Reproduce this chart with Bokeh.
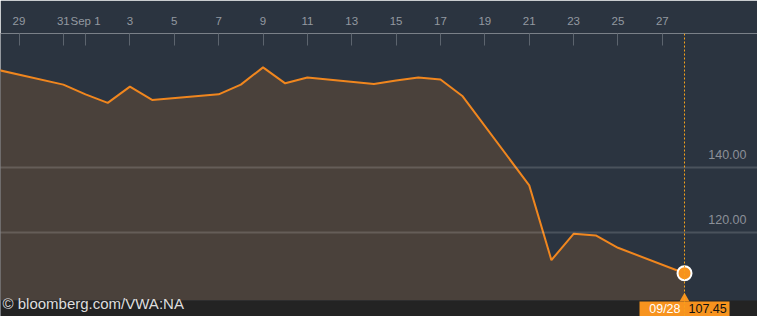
import pandas as pd
from bokeh.plotting import figure
from bokeh.models import Range1d, FixedTicker, Span
from bokeh.core.properties import value
from bokeh.embed import file_html
from bokeh.resources import INLINE

# ---- data ----
dates = ["2015-08-28", "2015-08-31", "2015-09-01", "2015-09-02", "2015-09-03",
         "2015-09-04", "2015-09-07", "2015-09-08", "2015-09-09", "2015-09-10",
         "2015-09-11", "2015-09-14", "2015-09-15", "2015-09-16", "2015-09-17",
         "2015-09-18", "2015-09-21", "2015-09-22", "2015-09-23", "2015-09-24",
         "2015-09-25", "2015-09-28"]
prices = [170.1, 165.5, 162.5, 159.9, 164.9,
          160.8, 162.5, 165.5, 170.8, 165.9,
          167.7, 165.7, 166.8, 167.7, 167.1,
          161.9, 134.5, 111.5, 119.6, 119.1,
          115.3, 107.45]
tick_dates = ["2015-08-29", "2015-08-31", "2015-09-01", "2015-09-03", "2015-09-05",
              "2015-09-07", "2015-09-09", "2015-09-11", "2015-09-13", "2015-09-15",
              "2015-09-17", "2015-09-19", "2015-09-21", "2015-09-23", "2015-09-25",
              "2015-09-27"]
tick_labels = ["29", "31", "Sep 1", "3", "5", "7", "9", "11", "13", "15", "17",
               "19", "21", "23", "25", "27"]
grid_levels = [120, 140]
source_text = "© bloomberg.com/VWA:NA"

origin = pd.Timestamp("2015-08-29")


def day(s):
    return (pd.Timestamp(s) - origin).days


xs = [day(d) for d in dates]
tx = [day(d) for d in tick_dates]

# ---- layout / style ----
W, H = 757, 316
TOP = 33
X0, X1 = -0.834, 33.29
Y0, Y1 = 94.15, 181.23
FLOOR = 99.08
BG = "#2b3440"
FILL = "#4a413b"
ORANGE = "#f0861e"
BOX = "#f7931e"
FONT = "Liberation Sans"

p = figure(width=W, height=H, x_range=Range1d(X0, X1), y_range=Range1d(Y0, Y1),
           x_axis_location="above", y_axis_location=None,
           output_backend="svg", toolbar_location=None,
           min_border_top=TOP, min_border_left=0, min_border_right=0, min_border_bottom=0,
           background_fill_color=BG, border_fill_color=BG, outline_line_color=None)

ax = p.xaxis[0]
ax.ticker = FixedTicker(ticks=tx)
ax.major_label_overrides = {t: l for t, l in zip(tx, tick_labels)}
ax.axis_line_color = "#7a8088"
ax.axis_line_width = 1
ax.major_tick_line_color = "#5c646e"
ax.major_tick_line_width = 1
ax.major_tick_in = 12
ax.major_tick_out = 0
ax.minor_tick_line_color = None
ax.major_label_standoff = 7
ax.major_label_text_font = FONT
ax.major_label_text_font_size = "11.5px"
ax.major_label_text_color = "#9399a0"

p.xgrid.visible = False
p.ygrid.ticker = FixedTicker(ticks=grid_levels)
p.ygrid.grid_line_color = "white"
p.ygrid.grid_line_alpha = 0.15
p.ygrid.grid_line_width = 2
p.ygrid.level = "annotation"

# area + line
p.varea(x=xs, y1=[FLOOR] * len(xs), y2=prices, fill_color=FILL)
p.line(xs, prices, line_color=ORANGE, line_width=2)

# y labels inside the plot on the right
p.text(x=[X1] * len(grid_levels), y=grid_levels,
       text=[f"{g:.2f}" for g in grid_levels],
       x_offset=-11, y_offset=-13, text_align="right", text_baseline="alphabetic",
       text_font=value(FONT), text_font_size="12.5px", text_color="#8b9098")

# crosshair at last point
last_x, last_y = xs[-1], prices[-1]
p.add_layout(Span(location=last_x, dimension="height", line_color="#f7a21b",
                  line_dash="2 2", line_width=1))

# bottom strip
p.quad(left=[X0], right=[X1], bottom=[Y0], top=[FLOOR], fill_color="#232323",
       line_color=None)
p.text(x=[X0], y=[Y0], text=[source_text], x_offset=2, y_offset=-13,
       text_align="left", text_baseline="alphabetic",
       text_font=value(FONT), text_font_size="15px", text_color="#dddddd")

# last point marker
p.scatter([last_x], [last_y], size=14, fill_color=BOX, line_color="white",
          line_width=2)

# value box
p.rect(x=[last_x], y=[Y0], width=90, height=30, width_units="screen",
       height_units="screen", fill_color=BOX, line_color=None)
p.scatter([last_x], [FLOOR + 0.6], marker="triangle", size=10, fill_color=BOX,
          line_color=None)
p.text(x=[last_x], y=[Y0], text=[pd.Timestamp(dates[-1]).strftime("%m/%d")],
       x_offset=-4, y_offset=-8, text_align="right", text_baseline="alphabetic",
       text_font=value(FONT), text_font_size="12.5px", text_color="white")
p.text(x=[last_x], y=[Y0], text=[f"{last_y:.2f}"],
       x_offset=4, y_offset=-8, text_align="left", text_baseline="alphabetic",
       text_font=value(FONT), text_font_size="12.5px", text_color="#111111")

open("out.html", "w").write(file_html(p, INLINE))
